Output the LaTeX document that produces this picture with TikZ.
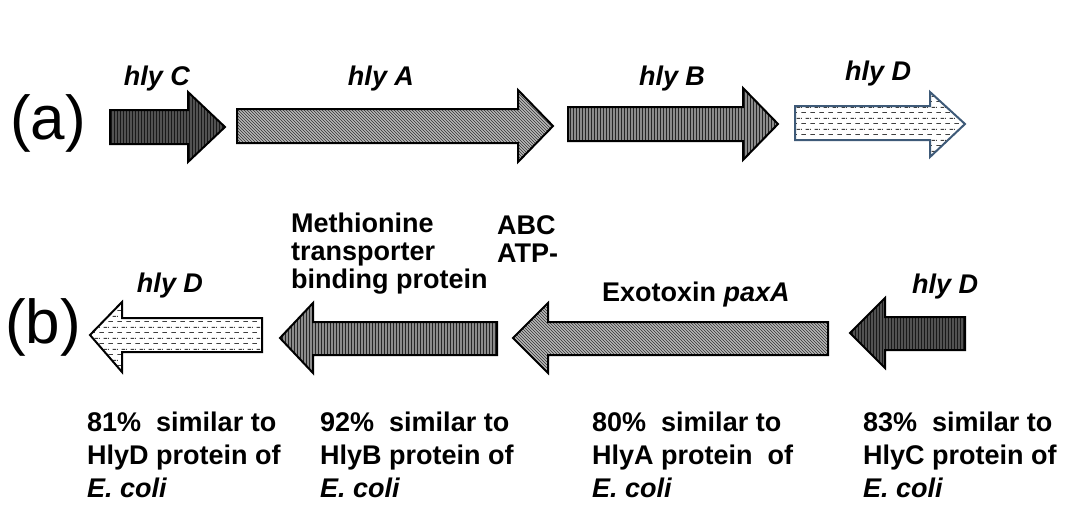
\documentclass[tikz,border=0pt]{standalone}
\usepackage{fontspec}
\setmainfont{Liberation Sans}
\usetikzlibrary{patterns}

\definecolor{edgeblue}{HTML}{3E5A78}

% short staggered dashes for the hly D genes
\pgfdeclarepatternformonly{dash rows}{\pgfpointorigin}{\pgfqpoint{9pt}{11pt}}{\pgfqpoint{9pt}{11pt}}{%
  \pgfsetlinewidth{0.9pt}
  \pgfpathmoveto{\pgfqpoint{0.5pt}{2.75pt}}\pgfpathlineto{\pgfqpoint{5.5pt}{2.75pt}}
  \pgfpathmoveto{\pgfqpoint{5pt}{8.25pt}}\pgfpathlineto{\pgfqpoint{9pt}{8.25pt}}
  \pgfpathmoveto{\pgfqpoint{0pt}{8.25pt}}\pgfpathlineto{\pgfqpoint{1pt}{8.25pt}}
  \pgfusepath{stroke}}

\tikzset{
  geneC/.style={draw=black, line width=2pt, preaction={fill=black!68}, pattern=vertical lines, pattern color=black!90},
  geneA/.style={draw=black, line width=2pt, preaction={fill=black!28}, pattern=north west lines, pattern color=black!80},
  geneB/.style={draw=black, line width=2pt, preaction={fill=black!45}, pattern=vertical lines, pattern color=black!85},
  geneD/.style={draw=black, line width=2pt, preaction={fill=white}, pattern=dash rows, pattern color=black!75},
  tag/.style={font=\fontsize{62}{70}\selectfont, inner sep=0pt, anchor=base},
  genename/.style={font=\fontsize{27}{30}\selectfont\bfseries\itshape, inner sep=0pt, anchor=base},
  note/.style={font=\fontsize{27}{33}\selectfont\bfseries, align=left, inner sep=0pt, anchor=base west}
}

\begin{document}
\begin{tikzpicture}[x=1pt,y=-1pt]
        \useasboundingbox (0,0) rectangle (1070,511);

        % (a) forward genes
        \node[tag] (taga) at (48,139) {(a)};

        \draw[geneC] (110,110) -- (188,110) -- (188,92) -- (225,127) -- (188,162) -- (188,144) -- (110,144) -- cycle;
        \draw[geneA] (237,109) -- (518,109) -- (518,90) -- (553,126) -- (518,162) -- (518,143) -- (237,143) -- cycle;
        \draw[geneB] (568,107) -- (743,107) -- (743,88) -- (778,124) -- (743,160) -- (743,141) -- (568,141) -- cycle;
        \draw[geneD, draw=edgeblue] (795,106) -- (930,106) -- (930,92) -- (965,124) -- (930,157) -- (930,140) -- (795,140) -- cycle;

        \node[genename] (namec) at (157,85) {hly C};
        \node[genename] (namea) at (381,85) {hly A};
        \node[genename] (nameb) at (672,85) {hly B};
        \node[genename] (named) at (878,80) {hly D};

        % (b) reverse genes
        \node[tag] (tagb) at (43,343) {(b)};

        \draw[geneD] (90,335) -- (122,302) -- (122,318) -- (262,318) -- (262,352) -- (122,352) -- (122,372) -- cycle;
        \draw[geneB] (280,338) -- (313,303) -- (313,322) -- (497,322) -- (497,355) -- (313,355) -- (313,373) -- cycle;
        \draw[geneA] (513,338) -- (548,303) -- (548,322) -- (828,322) -- (828,355) -- (548,355) -- (548,373) -- cycle;
        \draw[geneC] (850,333) -- (885,298) -- (885,317) -- (965,317) -- (965,350) -- (885,350) -- (885,368) -- cycle;

        \node[genename] (namebd) at (170,292) {hly D};
        \node[genename] (namebc) at (945,293) {hly D};
        \node[note, font=\fontsize{27}{28}\selectfont\bfseries] (methlbl) at (291,288) {Methionine\\transporter\\binding protein};
        \node[note, font=\fontsize{27}{28}\selectfont\bfseries] (abclbl) at (497,262) {ABC\\ATP-};
        \node[note] (paxlbl) at (602,301) {Exotoxin \textit{paxA}};

        % similarity notes
        \node[note] (simd) at (87,497) {81\%\ \ similar to\\HlyD protein of\\\textit{E. coli}};
        \node[note] (simb) at (320,497) {92\%\ \ similar to\\HlyB protein of\\\textit{E. coli}};
        \node[note] (sima) at (592,497) {80\%\ \ similar to\\HlyA protein\ \ of\\\textit{E. coli}};
        \node[note] (simc) at (863,497) {83\%\ \ similar to\\HlyC protein of\\\textit{E. coli}};
\end{tikzpicture}
\end{document}
